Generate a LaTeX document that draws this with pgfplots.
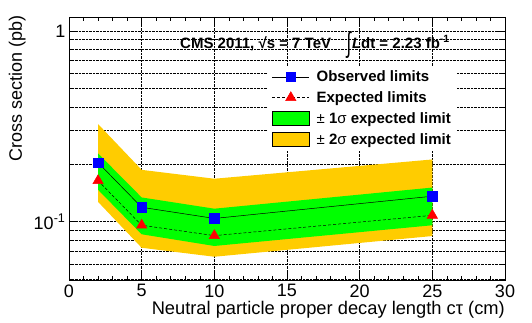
\documentclass[border=0pt]{standalone}
\usepackage{fontspec}
\setmainfont{Liberation Sans}
\usepackage{pgfplots}
\pgfplotsset{compat=1.18}
\definecolor{sigone}{RGB}{0,255,0}
\definecolor{sigtwo}{RGB}{255,204,0}
\definecolor{obsblue}{RGB}{0,0,255}
\definecolor{exred}{RGB}{255,0,0}
\pgfplotsset{
  linemarklegend/.style={legend image code/.code={%
    \draw[mark repeat=2,mark phase=2,##1] plot coordinates {(0pt,0pt)(18.5pt,0pt)(37pt,0pt)};}},
  boxlegend/.style={legend image code/.code={%
    \draw[##1] (0pt,-7pt) rectangle (37pt,7.5pt);}},
}
\begin{document}
\begin{tikzpicture}
\begin{axis}[name=ax,scale only axis,width=436pt,height=263pt,
  xmin=0,xmax=30,ymode=log,ymin=0.04946,ymax=1.184,
  xtick={0,5,...,30},minor x tick num=4,
  ytick={0.1,1},yticklabels={10\textsuperscript{-1},1},
  minor ytick={0.05,0.06,0.07,0.08,0.09,0.2,0.3,0.4,0.5,0.6,0.7,0.8,0.9},
  xmajorgrids,ymajorgrids,yminorgrids,
  major grid style={densely dotted,black,line width=0.5pt},
  minor grid style={densely dotted,black,line width=0.5pt},
  tick align=inside,tick pos=both,
  major tick length=8pt,minor tick length=4pt,
  every tick/.style={black,line width=0.6pt},
  axis line style={line width=0.7pt},
  /pgf/number format/assume math mode=true,
  tick label style={font=\fontsize{18}{20}\selectfont},
  xticklabel style={yshift=-1pt},
  legend cell align=left,
  legend style={at={(rel axis cs:0.456,0.812)},anchor=north west,draw=none,fill=white,
    font=\bfseries\fontsize{15}{18}\selectfont,row sep=4.5pt,inner xsep=4pt,inner ysep=2pt,
    /tikz/every odd column/.append style={column sep=5pt}},
]
% legend images
\addlegendimage{linemarklegend,black,solid,line width=0.5pt,mark=square*,mark size=4.7pt,mark options={fill=obsblue,draw=obsblue}}
\addlegendentry{Observed limits}
\addlegendimage{linemarklegend,black,densely dashed,line width=0.5pt,mark=triangle*,mark size=6pt,mark options={solid,fill=exred,draw=exred}}
\addlegendentry{Expected limits}
\addlegendimage{boxlegend,fill=sigone,draw=black,line width=0.6pt}
\addlegendentry{{\mdseries ±} 1{\mdseries σ} expected limit\hspace{14pt}}
\addlegendimage{boxlegend,fill=sigtwo,draw=black,line width=0.6pt}
\addlegendentry{{\mdseries ±} 2{\mdseries σ} expected limit}
% +-2 sigma band
\addplot[fill=sigtwo,draw=none,forget plot] coordinates
  {(2,0.325) (5,0.187) (10,0.168) (25,0.212) (25,0.0841) (10,0.0655) (5,0.073) (2,0.127)} -- cycle;
% +-1 sigma band
\addplot[fill=sigone,draw=none,forget plot] coordinates
  {(2,0.228) (5,0.134) (10,0.117) (25,0.151) (25,0.0958) (10,0.0746) (5,0.0859) (2,0.147)} -- cycle;
% expected
\addplot[black,densely dashed,line width=0.5pt,mark=triangle*,mark size=6pt,
  mark options={solid,fill=exred,draw=exred},forget plot] coordinates
  {(2,0.164) (5,0.0958) (10,0.0845) (25,0.108)};
% observed
\addplot[black,solid,line width=0.5pt,mark=square*,mark size=4.7pt,
  mark options={fill=obsblue,draw=obsblue},forget plot] coordinates
  {(2,0.204) (5,0.119) (10,0.104) (25,0.136)};
\node[anchor=base west,font=\bfseries\fontsize{15}{18}\selectfont,inner sep=0pt]
  at (rel axis cs:0.2546,0.882) {CMS 2011, √s = 7 TeV};
\node[anchor=base west,font=\bfseries\fontsize{15}{18}\selectfont,inner sep=0pt]
  at (rel axis cs:0.636,0.882) {\raisebox{-0.3em}{\scalebox{1.1}[1.9]{\mdseries ∫}}\kern1pt\textit{L}dt = 2.23 fb\textsuperscript{-1}};
\end{axis}
\node[anchor=base east,font=\fontsize{18.3}{20}\selectfont,inner sep=0pt]
  at ([yshift=-35pt]ax.south east) {Neutral particle proper decay length cτ (cm)};
\node[rotate=90,anchor=base east,font=\fontsize{18}{20}\selectfont,inner sep=0pt]
  at ([xshift=-47pt,yshift=2pt]ax.north west) {Cross section (pb)};
\pgfresetboundingbox
\path[use as bounding box] (-69pt,-43pt) rectangle (463pt,280pt);
\end{tikzpicture}
\end{document}
